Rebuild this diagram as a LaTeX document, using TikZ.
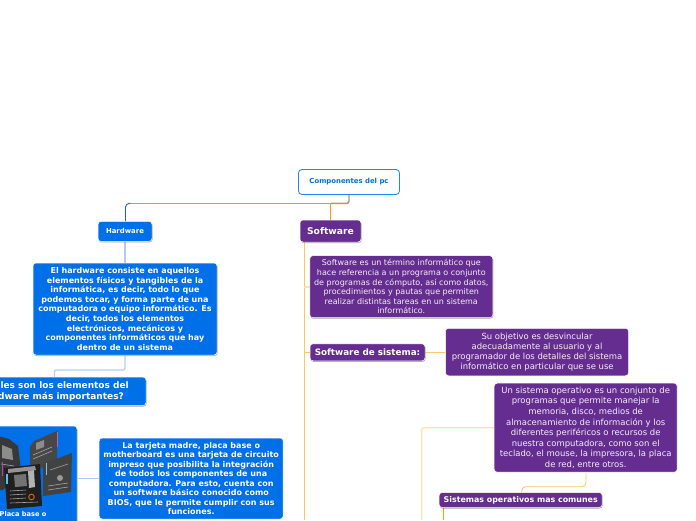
\documentclass[tikz,border=0pt]{standalone}
\usepackage{fontspec}
\setmainfont{DejaVu Sans}
\usetikzlibrary{shadows}
\definecolor{blu}{HTML}{0070E8}
\definecolor{rootb}{HTML}{1E88F0}
\definecolor{pur}{HTML}{652D90}
\definecolor{lblu}{HTML}{B4CBF8}
\definecolor{mblu}{HTML}{7FA4F5}
\definecolor{dblu}{HTML}{1C5FE0}
\definecolor{org}{HTML}{FFA000}
\definecolor{morg}{HTML}{FFC566}
\definecolor{lorg}{HTML}{FFDFAE}
\definecolor{brn}{HTML}{B8956A}
\tikzset{
 px/.style={x=1pt,y=-1pt},
 card/.style={draw=white,line width=.5pt,rounded corners=3pt,inner sep=0pt,align=center,text=white,anchor=center},
 bluebox/.style={card,fill=blu,font=\bfseries\fontsize{8.0}{9.55}\selectfont},
 purbox/.style={card,fill=pur,text=white!93!pur},
 purhead/.style={card,fill=pur,font=\bfseries\fontsize{7.9}{10}\selectfont},
 shadowed/.style={drop shadow={shadow xshift=.5pt,shadow yshift=-1pt,opacity=.35,fill=black}},
 link/.style={line width=1.2pt,rounded corners=2pt},
 slotline/.style={line width=.6pt,draw=black!35},
}
\begin{document}
\begin{tikzpicture}[px]
\useasboundingbox (0,0) rectangle (696,520);
\fill[white] (0,0) rectangle (696,520);
% anchors for connectors
\coordinate (rootS) at (349,194);
\coordinate (j1) at (331,203.3);
\coordinate (j0) at (130,203.3);
\coordinate (spine) at (304.4,520);
\coordinate (j2) at (421.8,520);
\coordinate (bB) at (443.5,520);
% connectors
\draw[link,draw=mblu] (j1) -- (j0);
\draw[link,draw=dblu,line width=.9pt,rounded corners=4pt] (j0) -| (125.5,222);
\draw[link,draw=brn,line width=1.4pt] (rootS) |- (j1);
\draw[draw=org,line width=.9pt] (330.8,203.3) -- (330.8,220);
\draw[link,draw=lblu] (125,242) -- (125,264);
\draw[link,draw=lblu] (125,356) |- (54.4,370) -- (54.4,378);
\draw[link,draw=lblu] (78,478.3) -- (99,478.3);
\draw[link,draw=morg,line width=1pt] (304.4,242) -- (spine);
\draw[link,draw=lorg] (304.4,287) -- (310,287);
\draw[link,draw=morg] (304.4,352.3) -- (310,352.3);
\draw[link,draw=morg] (425,352.3) -- (445,352.3);
\draw[link,draw=lorg] (j2) |- (494,427.8);
\draw[draw=morg,line width=.9pt,rounded corners=4pt] (586,473) |- (521.7,486.7) -- (521.7,492.5);
\draw[link,draw=org] (bB) -- (443.5,507);
% root
\node[draw=rootb,fill=white,line width=.8pt,rounded corners=3.5pt,minimum width=101pt,minimum height=25pt,text=blu,font=\bfseries\fontsize{6.9}{8}\selectfont] (root) at (349,182) {Componentes del pc};
% hardware
\node[bluebox,shadowed,minimum width=54pt,minimum height=20pt,font=\bfseries\fontsize{6.9}{8}\selectfont] (hw) at (125,231.4) {Hardware};
\node[bluebox,shadowed,minimum width=184pt,minimum height=92pt] (hwd) at (125,309) {El hardware consiste en aquellos\\elementos físicos y tangibles de la\\informática, es decir, todo lo que\\podemos tocar, y forma parte de una\\computadora o equipo informático. Es\\decir, todos los elementos\\electrónicos, mecánicos y\\componentes informáticos que hay\\dentro de un sistema};
\node[bluebox,shadowed,minimum width=187pt,minimum height=28.5pt,font=\bfseries\fontsize{9.0}{11}\selectfont] (q) at (52.5,391.3) {¿Cuáles son los elementos del\\hardware más importantes?};
\node[card,fill=blu,shadowed,minimum width=108pt,minimum height=100pt] (pb) at (23,476) {};
% motherboard illustration
\begin{scope}
\clip (0,428) rectangle (76,520);
% back board
\fill[black!72] (57,431) -- (34,441) -- (30,447) -- (30,470) -- (57,466) -- cycle;
\fill[black!45] (36,443) -- (44,440) -- (44,447) -- (36,450) -- cycle;
\draw[slotline] (33,455) -- (52,447);
\draw[slotline] (33,459) -- (52,451);
\fill[violet!60] (56.5,432) rectangle (57.5,447);
% left board
\fill[black!78] (-6,435) -- (9,439) -- (18,446) -- (21,470) -- (3,490) -- (-6,490) -- cycle;
\fill[black!45] (2,445) -- (12,449) -- (13,460) -- (2,458) -- cycle;
\draw[slotline] (1,464) -- (14,466);
\fill[violet!70] (2,462) rectangle (3,476);
% right board
\fill[black!74] (72,453) -- (71,492) -- (43,496) -- (43,464) -- cycle;
\fill[black!40] (60,478) circle[radius=3];
\draw[slotline] (48,486) -- (68,483);
\draw[slotline] (48,490) -- (68,487);
\draw[slotline] (50,470) -- (68,464);
\fill[cyan!60!white] (45.5,463) rectangle (47,475);
% front board
\fill[black!88] (4,468) -- (40,464) -- (42,506) -- (7,509) -- cycle;
\fill[black!42] (8,469) -- (35,466) -- (36,470) -- (8,473) -- cycle;
\fill[black!55] (14,475) -- (26,474) -- (27,486) -- (15,487) -- cycle;
\fill[black!30] (28,471) -- (34,470) -- (35,487) -- (29,488) -- cycle;
\draw[slotline] (10,491) -- (26,490);
\draw[slotline] (10,495) -- (26,494);
\draw[slotline] (10,499) -- (26,498);
\draw[slotline] (10,503) -- (38,502);
\draw[orange!85!black,line width=.9pt] (31.5,497) circle[radius=2.8];
\fill[cyan!70!white] (6,474) rectangle (7.5,484);
\end{scope}
\node[text=white,font=\bfseries\fontsize{6.6}{8}\selectfont,inner sep=0pt] (pbt) at (23,514) {Placa base o};
\node[bluebox,minimum width=184pt,minimum height=81pt] (tm) at (191.2,478.5) {La tarjeta madre, placa base o\\motherboard es una tarjeta de circuito\\impreso que posibilita la integración\\de todos los componentes de una\\computadora. Para esto, cuenta con\\un software básico conocido como\\BIOS, que le permite cumplir con sus\\funciones.};
% software
\node[purhead,shadowed,minimum width=61pt,minimum height=22pt,font=\bfseries\fontsize{9.2}{11}\selectfont] (sw) at (330.5,231) {Software};
\node[purbox,shadowed,minimum width=183pt,minimum height=62pt,font=\fontsize{8.0}{9.6}\selectfont] (swd) at (401.3,286.7) {Software es un término informático que\\hace referencia a un programa o conjunto\\de programas de cómputo, así como datos,\\procedimientos y pautas que permiten\\realizar distintas tareas en un sistema\\informático.};
\node[purhead,shadowed,minimum width=115pt,minimum height=17pt,font=\bfseries\fontsize{8.8}{10}\selectfont] (ss) at (367.5,352.3) {Software de sistema:};
\node[purbox,minimum width=183pt,minimum height=47.5pt,font=\fontsize{8.45}{10.2}\selectfont] (ssd) at (537,352) {Su objetivo es desvincular\\adecuadamente al usuario y al\\programador de los detalles del sistema\\informático en particular que se use};
\node[purbox,minimum width=183pt,minimum height=89pt,font=\fontsize{8.45}{10.6}\selectfont] (so) at (585.7,427.7) {Un sistema operativo es un conjunto de\\programas que permite manejar la\\memoria, disco, medios de\\almacenamiento de información y los\\diferentes periféricos o recursos de\\nuestra computadora, como son el\\teclado, el mouse, la impresora, la placa\\de red, entre otros.};
\node[purhead,shadowed,minimum width=163pt,minimum height=15pt] (soc) at (520.7,500) {Sistemas operativos mas comunes};
\end{tikzpicture}
\end{document}
